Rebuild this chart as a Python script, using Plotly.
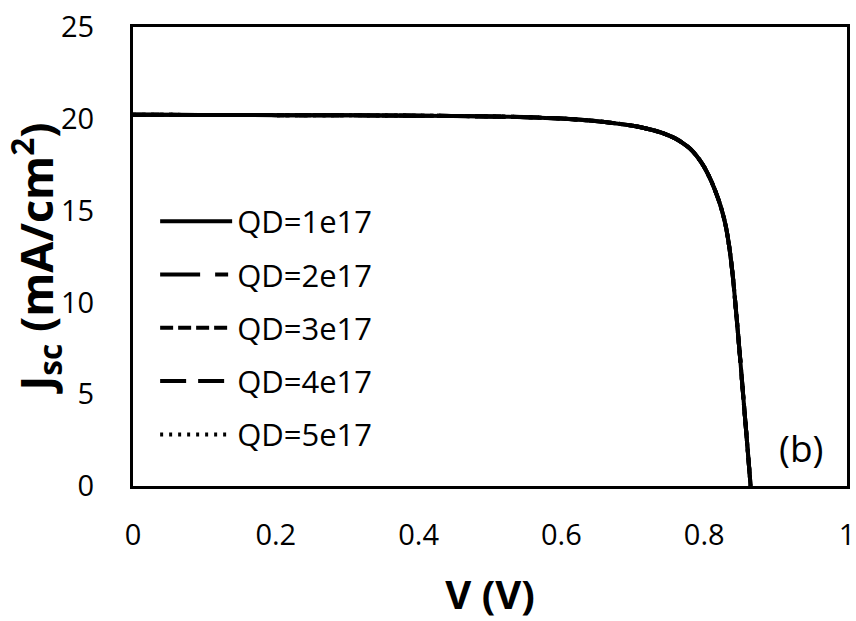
import plotly.graph_objects as go

# J-V characteristic (identical for every QD doping level)
voltage = [0, 0.1, 0.2, 0.3, 0.4, 0.5, 0.55, 0.6, 0.65, 0.7, 0.72, 0.74,
           0.75, 0.76, 0.77, 0.78, 0.79, 0.8, 0.81, 0.82, 0.825, 0.83,
           0.835, 0.84, 0.845, 0.85, 0.855, 0.86, 0.865]
current = [20.22, 20.21, 20.2, 20.19, 20.17, 20.13, 20.09, 20.01, 19.87,
           19.62, 19.46, 19.25, 19.1, 18.92, 18.68, 18.38, 17.95, 17.38, 16.6,
           15.6, 14.98, 14.2, 13.05, 11.45, 9.35, 7.1, 4.75, 2.4, 0]

series_names = ["QD=1e17", "QD=2e17", "QD=3e17", "QD=4e17", "QD=5e17"]
series_dash = ["solid", "40px,15px,13px,15px", "13px,5px", "26px,12px", "3px,6px"]
series_current = [current, current, current, current, current]

x_ticks = [0, 0.2, 0.4, 0.6, 0.8, 1]
x_ticktext = ["0", "0.2", "0.4", "0.6", "0.8", "1"]
y_ticks = [0, 5, 10, 15, 20, 25]

FONT = "Open Sans"

fig = go.Figure()
for i, (name, dash, jv) in enumerate(zip(series_names, series_dash, series_current)):
    fig.add_trace(go.Scatter(
        x=voltage, y=jv, name=name, mode="lines",
        line=dict(color="black", width=4, dash=dash, shape="spline", smoothing=0.8),
        legendgroup=f"g{i}",
    ))

fig.add_annotation(x=0.935, y=2.1, xref="x", yref="y", text="(b)",
                   showarrow=False, font=dict(family=FONT, size=37, color="black"))

fig.update_layout(
    width=856, height=621,
    margin=dict(l=133, r=9, t=27, b=135),
    paper_bgcolor="white", plot_bgcolor="white",
    font=dict(family=FONT, color="black"),
    showlegend=True,
    legend=dict(
        x=0.031, y=0.635, xanchor="left", yanchor="top",
        bgcolor="rgba(0,0,0,0)", font=dict(family=FONT, size=31, color="black"),
        itemwidth=72, tracegroupgap=10,
    ),
    xaxis=dict(
        range=[0, 1], tickvals=x_ticks, ticktext=x_ticktext,
        showgrid=False, zeroline=False, automargin=False,
        showline=True, linecolor="black", linewidth=3, mirror=True,
        ticks="", ticklabelstandoff=21,
        tickfont=dict(family=FONT, size=29, color="black"),
        title=dict(text="<b>V (V)</b>", font=dict(family=FONT, size=40, color="black"),
                   standoff=31),
    ),
    yaxis=dict(
        range=[0, 25], tickvals=y_ticks,
        showgrid=False, zeroline=False, automargin=False,
        showline=True, linecolor="black", linewidth=3, mirror=True,
        ticks="", ticklabelstandoff=30,
        tickfont=dict(family=FONT, size=29, color="black"),
        title=dict(text="<b>J<sub>sc</sub> (mA/cm<sup>2</sup>)</b>",
                   font=dict(family=FONT, size=45, color="black"), standoff=6),
    ),
)

fig.write_html("out.html")
